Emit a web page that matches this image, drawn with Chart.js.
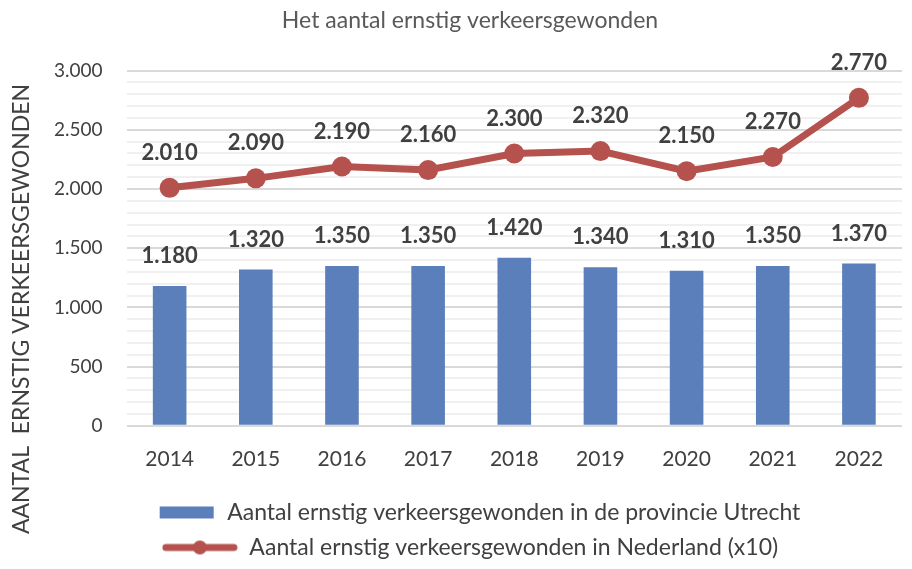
<!DOCTYPE html>
<html>
<head>
<meta charset="utf-8">
<script src="https://cdn.jsdelivr.net/npm/chart.js@4"></script>
<style>
  html, body { margin: 0; padding: 0; background: #fff; }
  #wrap { width: 912px; height: 569px; }
</style>
</head>
<body>
<div id="wrap"><canvas id="chart"></canvas></div>
<script>
// Data
const years = ['2014', '2015', '2016', '2017', '2018', '2019', '2020', '2021', '2022'];
const utrecht = [1180, 1320, 1350, 1350, 1420, 1340, 1310, 1350, 1370];
const nederlandX10 = [2010, 2090, 2190, 2160, 2300, 2320, 2150, 2270, 2770];

const blue = '#5a7fba';
const red = '#b5524e';
const FONT = 'Lato, "Open Sans", sans-serif';
const Y_TITLE = 'AANTAL  ERNSTIG VERKEERSGEWONDEN';

// Dutch thousands separator
function formatNumber(num) {
    return num.toString().replace(/\B(?=(\d{3})+(?!\d))/g, '.');
}

// Legend symbols drawn on little canvases (same width so text lines up)
function makeBarSymbol() {
    const c = document.createElement('canvas');
    c.width = 76; c.height = 16;
    const g = c.getContext('2d');
    g.fillStyle = blue;
    g.fillRect(20, 2, 54, 12);
    return c;
}
function makeLineSymbol() {
    const c = document.createElement('canvas');
    c.width = 76; c.height = 16;
    const g = c.getContext('2d');
    g.strokeStyle = red;
    g.lineWidth = 7;
    g.lineCap = 'round';
    g.beginPath();
    g.moveTo(4, 8); g.lineTo(72, 8);
    g.stroke();
    g.fillStyle = red;
    g.beginPath();
    g.arc(38, 8, 7, 0, Math.PI * 2);
    g.fill();
    return c;
}
const legendSymbols = [makeLineSymbol(), makeBarSymbol()];

// Value labels above bars and points
const valueLabels = {
    id: 'valueLabels',
    afterDatasetsDraw(chart) {
        const ctx = chart.ctx;
        ctx.save();
        ctx.font = 'bold 22px ' + FONT;
        ctx.fillStyle = '#404040';
        ctx.textAlign = 'center';
        ctx.textBaseline = 'middle';
        chart.data.datasets.forEach((ds, i) => {
            const meta = chart.getDatasetMeta(i);
            const offset = ds.type === 'line' ? 35 : 30;
            meta.data.forEach((el, j) => {
                ctx.fillText(formatNumber(ds.data[j]), el.x, el.y - offset);
            });
        });
        ctx.restore();
    }
};

// Rotated axis title, placed like the original (centred on the whole chart height)
const sideTitle = {
    id: 'sideTitle',
    afterDraw(chart) {
        const ctx = chart.ctx;
        ctx.save();
        ctx.translate(22, 309);
        ctx.rotate(-Math.PI / 2);
        ctx.font = '23px ' + FONT;
        ctx.fillStyle = '#404040';
        ctx.textAlign = 'center';
        ctx.textBaseline = 'middle';
        ctx.fillText(Y_TITLE, 0, 0);
        ctx.restore();
    }
};

const ctx = document.getElementById('chart');
new Chart(ctx, {
    data: {
        labels: years,
        datasets: [{
            type: 'line',
            label: 'Aantal ernstig verkeersgewonden in Nederland (x10)',
            data: nederlandX10,
            borderColor: red,
            backgroundColor: red,
            borderWidth: 7,
            pointRadius: 10,
            pointHoverRadius: 10,
            pointBackgroundColor: red,
            pointBorderWidth: 0,
            tension: 0,
            order: 1
        }, {
            type: 'bar',
            label: 'Aantal ernstig verkeersgewonden in de provincie Utrecht',
            data: utrecht,
            backgroundColor: blue,
            barPercentage: 0.39,
            categoryPercentage: 1,
            order: 2
        }]
    },
    options: {
        responsive: true,
        maintainAspectRatio: false,
        animation: false,
        layout: { padding: { left: 30, right: 2, top: 0, bottom: 0 } },
        scales: {
            x: {
                grid: { display: false },
                border: { display: false },
                ticks: {
                    color: '#404040',
                    font: { family: FONT, size: 21 },
                    padding: 13
                },
                // leave more room between the year labels and the legend
                afterFit(scale) { scale.height += 4; }
            },
            y: {
                min: 0,
                max: 3000,
                border: { display: false },
                ticks: {
                    stepSize: 100,
                    autoSkip: false,
                    maxTicksLimit: 40,
                    color: '#404040',
                    font: { family: FONT, size: 19 },
                    padding: 24,
                    callback: v => (v % 500 === 0 ? formatNumber(v) : '')
                },
                grid: {
                    drawTicks: false,
                    lineWidth: 2,
                    color: c => (c.tick.value % 500 === 0 ? '#d9d9d9' : '#f0f0f0')
                }
            }
        },
        plugins: {
            title: {
                display: true,
                text: 'Het aantal ernstig verkeersgewonden',
                color: '#595959',
                font: { family: FONT, size: 23, weight: 'normal' },
                padding: { top: 7, bottom: 36 }
            },
            legend: {
                position: 'bottom',
                labels: {
                    usePointStyle: true,
                    pointStyleWidth: 76,
                    boxHeight: 16,
                    padding: 12,
                    color: '#404040',
                    font: { family: FONT, size: 23 },
                    generateLabels(chart) {
                        const items = Chart.defaults.plugins.legend.labels.generateLabels(chart);
                        items.forEach(it => { it.pointStyle = legendSymbols[it.datasetIndex]; });
                        return items.reverse();
                    }
                }
            },
            tooltip: { enabled: false }
        }
    },
    plugins: [valueLabels, sideTitle]
});
</script>
</body>
</html>
